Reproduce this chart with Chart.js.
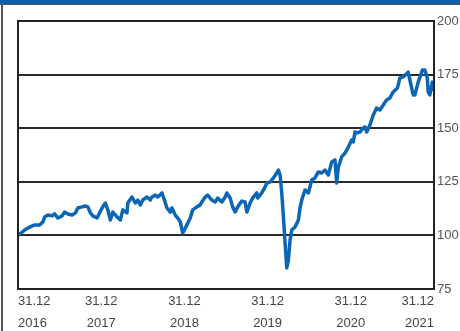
<!DOCTYPE html>
<html>
<head>
<meta charset="utf-8">
<script src="https://cdn.jsdelivr.net/npm/chart.js@4/dist/chart.umd.min.js"></script>
<style>
  html, body { margin: 0; padding: 0; background: #fff; }
  #wrap { width: 460px; height: 331px; position: relative; }
</style>
</head>
<body>
<div id="wrap"><canvas id="chart"></canvas></div>
<script>
// Zeit in Jahren ab 31.12.2016 und Indexstand (Start = 100)
const years = [
  0.00, 0.08, 0.14, 0.20, 0.26, 0.30, 0.32, 0.36, 0.41, 0.44, 0.48, 0.53, 0.56, 0.60, 0.65, 0.69,
  0.72, 0.77, 0.81, 0.84, 0.87, 0.90, 0.95, 1.01, 1.05, 1.08, 1.11, 1.14, 1.19, 1.23, 1.26, 1.31,
  1.32, 1.37, 1.41, 1.44, 1.47, 1.50, 1.55, 1.59, 1.61, 1.65, 1.68, 1.73, 1.76, 1.79, 1.83, 1.85,
  1.89, 1.92, 1.95, 1.98, 2.03, 2.07, 2.10, 2.15, 2.19, 2.21, 2.25, 2.28, 2.33, 2.37, 2.40, 2.45,
  2.49, 2.51, 2.55, 2.58, 2.61, 2.64, 2.69, 2.73, 2.75, 2.79, 2.82, 2.87, 2.88, 2.93, 2.97, 2.99,
  3.03, 3.07, 3.11, 3.13, 3.15, 3.17, 3.19, 3.21, 3.23, 3.25, 3.27, 3.29, 3.33, 3.37, 3.39, 3.41,
  3.45, 3.49, 3.53, 3.57, 3.61, 3.65, 3.69, 3.73, 3.77, 3.81, 3.83, 3.85, 3.89, 3.93, 3.97, 4.01,
  4.03, 4.05, 4.07, 4.11, 4.15, 4.17, 4.19, 4.23, 4.27, 4.31, 4.35, 4.39, 4.43, 4.47, 4.51, 4.56,
  4.57, 4.59, 4.63, 4.68, 4.69, 4.71, 4.75, 4.77, 4.81, 4.86, 4.89, 4.92, 4.93, 4.95, 4.98, 4.99,
  5.00
];
const values = [
  100.0, 102.5, 103.9, 104.9, 104.9, 106.3, 108.6, 109.5, 109.1, 110.0, 108.1, 109.1, 110.9, 110.0, 109.5, 110.5,
  112.8, 113.3, 113.7, 113.3, 110.5, 109.1, 108.1, 112.8, 115.1, 111.9, 107.2, 110.9, 108.6, 107.2, 111.9, 110.5,
  115.1, 117.9, 115.1, 116.5, 114.2, 116.5, 117.9, 116.5, 117.9, 118.8, 117.9, 119.8, 116.5, 112.8, 110.9, 112.8,
  109.5, 108.1, 106.3, 101.1, 104.9, 108.1, 111.9, 113.3, 114.2, 115.6, 117.9, 118.8, 116.5, 115.6, 117.4, 115.6,
  117.9, 119.8, 117.4, 113.3, 110.9, 113.3, 116.0, 115.6, 110.9, 115.1, 117.4, 119.8, 117.4, 119.8, 122.6, 124.4,
  124.9, 126.8, 129.1, 130.5, 128.2, 119.8, 108.6, 96.5, 84.8, 88.5, 97.9, 102.5, 103.9, 107.2, 112.8, 116.5,
  121.2, 119.8, 125.8, 126.8, 129.6, 129.1, 130.5, 128.2, 134.2, 135.2, 124.4, 131.9, 136.6, 138.4, 141.2, 144.5,
  143.6, 148.2, 147.8, 148.2, 150.1, 150.6, 148.2, 151.5, 156.2, 159.4, 158.5, 160.8, 163.2, 164.1, 166.9, 168.8,
  170.2, 173.4, 173.9, 175.7, 176.2, 172.5, 165.5, 165.5, 171.5, 177.1, 177.1, 173.4, 166.9, 165.5, 171.5, 168.8,
  167.5
];
const tickDates = ['31.12', '31.12', '31.12', '31.12', '31.12', '31.12'];
const tickYears = ['2016', '2017', '2018', '2019', '2020', '2021'];

// Rahmen + Kopfbalken
const framePlugin = {
  id: 'frame',
  beforeDraw(chart) {
    const ctx = chart.ctx;
    ctx.save();
    ctx.fillStyle = '#0d5fae';
    ctx.fillRect(0, 0, chart.width, 4);
    ctx.fillStyle = '#555';
    ctx.fillRect(0, 4, chart.width, 1);
    ctx.fillRect(1, 4, 2, chart.height - 4);
    ctx.restore();
  },
  afterDatasetsDraw(chart) {
    const a = chart.chartArea;
    const ctx = chart.ctx;
    ctx.save();
    ctx.strokeStyle = '#222';
    ctx.lineWidth = 2;
    ctx.strokeRect(a.left, a.top, a.right - a.left, a.bottom - a.top);
    ctx.restore();
  }
};

new Chart(document.getElementById('chart'), {
  type: 'line',
  data: {
    datasets: [{
      data: years.map((t, i) => ({ x: t, y: values[i] })),
      borderColor: '#0b66b5',
      borderWidth: 3.5,
      pointRadius: 0,
      tension: 0,
      borderJoinStyle: 'round'
    }]
  },
  options: {
    responsive: true,
    maintainAspectRatio: false,
    animation: false,
    layout: { padding: { left: 18, top: 21, right: 0, bottom: 0 } },
    plugins: { legend: { display: false }, tooltip: { enabled: false } },
    scales: {
      x: {
        type: 'linear',
        min: 0,
        max: 5,
        afterBuildTicks: s => { s.ticks = tickYears.map((_, i) => ({ value: i })); },
        afterFit: s => { s.height = 42; },
        grid: { display: false },
        border: { display: false },
        ticks: {
          align: 'inner',
          maxRotation: 0,
          padding: -7,
          color: '#444',
          font: { family: 'Liberation Sans, Arial, sans-serif', size: 13, lineHeight: 1.7 },
          callback: (v, i) => [tickDates[i], tickYears[i]]
        }
      },
      y: {
        position: 'right',
        min: 75,
        max: 200,
        afterFit: s => { s.width = 26; },
        border: { display: false },
        grid: { color: '#2a2a2a', lineWidth: 2, drawTicks: false },
        ticks: {
          stepSize: 25,
          padding: 3,
          color: '#555',
          font: { family: 'Liberation Sans, Arial, sans-serif', size: 13 }
        }
      }
    }
  },
  plugins: [framePlugin]
});
</script>
</body>
</html>
